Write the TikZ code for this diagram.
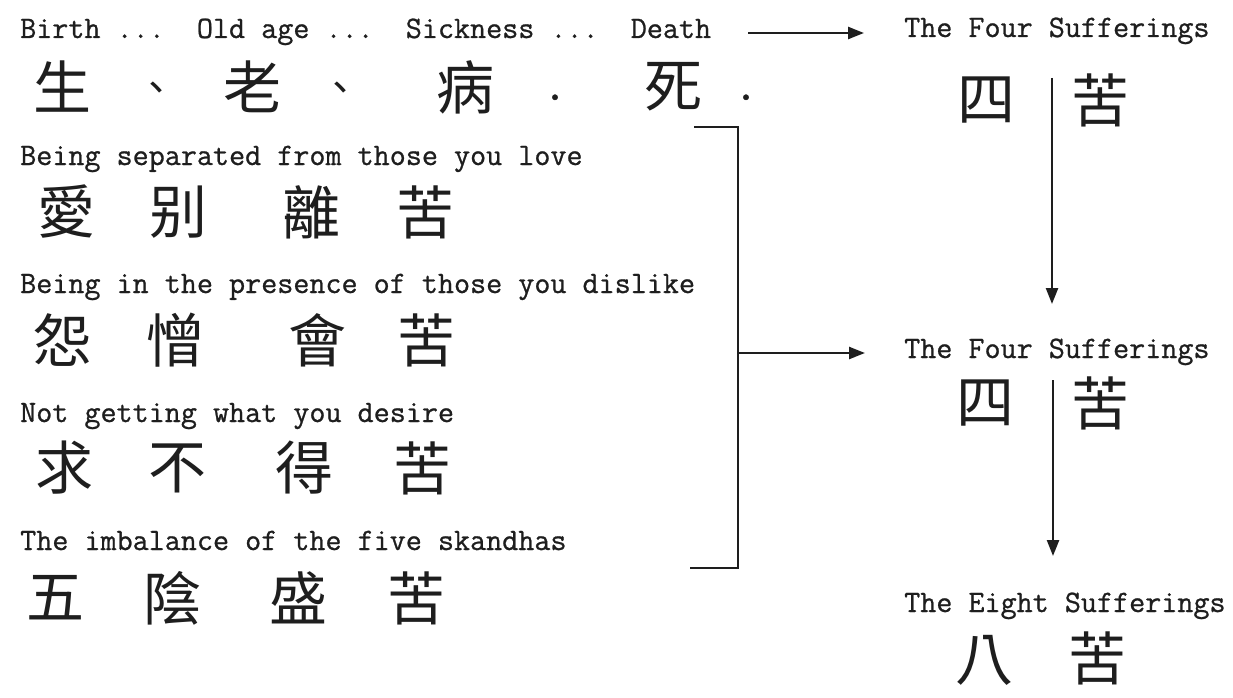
\documentclass[tikz,border=0pt]{standalone}
\usepackage{fontspec}
\newfontfamily\cjk{Noto Sans CJK TC}
\newfontfamily\tw[FakeBold=0.8]{Latin Modern Mono}
\usetikzlibrary{arrows.meta}
\definecolor{ink}{HTML}{1E1E1E}
\tikzset{
  lab/.style={anchor=base west, inner sep=0pt, text=ink,
    font=\fontsize{31.2}{36}\selectfont\tw},
  dotmark/.style={anchor=base, inner sep=0pt, text=ink,
    font=\fontsize{48}{50}\selectfont\tw},
  hz/.style={inner sep=0pt, text=ink, font=\fontsize{58}{60}\selectfont\cjk},
  pz/.style={inner sep=0pt, text=ink, font=\fontsize{40}{42}\selectfont\cjk},
  conn/.style={line width=2.4pt, draw=ink},
  arr/.style={conn, -{Triangle[length=16pt,width=12pt]}}
}
\begin{document}
\begin{tikzpicture}[x=1pt,y=1pt]
\useasboundingbox[fill=white] (0,0) rectangle (1233,-698);

% left column labels
\node[lab] (l1) at (20,-38) {Birth ...\ \ Old age ...\ \ Sickness ...\ \ Death};
\node[lab] (l2) at (20,-165) {Being separated from those you love};
\node[lab] (l3) at (20,-293) {Being in the presence of those you dislike};
\node[lab] (l4) at (20,-422) {Not getting what you desire};
\node[lab] (l5) at (20,-550) {The imbalance of the five skandhas};

% row 1
\node[hz] (c11) at (62,-87) {生};
\node[pz] (p11) at (156,-92) {、};
\node[hz] (c12) at (252,-87) {老};
\node[pz] (p12) at (340,-92) {、};
\node[hz] (c13) at (465,-87) {病};
\node[dotmark] (p13) at (555,-100) {.};
\node[hz] (c14) at (673,-87) {死};
\node[dotmark] (p14) at (746,-100) {.};

% row 2
\node[hz] (c21) at (66,-212) {愛};
\node[hz] (c22) at (178,-212) {别};
\node[hz] (c23) at (311,-212) {離};
\node[hz] (c24) at (425,-212) {苦};

% row 3
\node[hz] (c31) at (62,-340) {怨};
\node[hz] (c32) at (175,-340) {憎};
\node[hz] (c33) at (317,-340) {會};
\node[hz] (c34) at (426,-340) {苦};

% row 4
\node[hz] (c41) at (64,-468) {求};
\node[hz] (c42) at (177,-468) {不};
\node[hz] (c43) at (304,-468) {得};
\node[hz] (c44) at (422,-468) {苦};

% row 5
\node[hz] (c51) at (55,-598) {五};
\node[hz] (c52) at (172,-598) {陰};
\node[hz] (c53) at (298,-598) {盛};
\node[hz] (c54) at (416,-598) {苦};

% right column
\node[lab] (r1) at (904,-37) {The Four Sufferings};
\node[hz] (r1a) at (986,-100) {四};
\node[hz] (r1b) at (1100,-100) {苦};
\node[lab] (r2) at (904,-358) {The Four Sufferings};
\node[hz] (r2a) at (985,-403) {四};
\node[hz] (r2b) at (1100,-403) {苦};
\node[lab] (r3) at (904,-612) {The Eight Sufferings};
\node[hz] (r3a) at (984,-660) {八};
\node[hz] (r3b) at (1097,-658) {苦};

% connector coordinates
\coordinate (a1s) at (748,-33);
\coordinate (a1e) at (864,-33);
\coordinate (bt) at (694,-127);
\coordinate (btr) at (738,-127);
\coordinate (bbr) at (738,-568);
\coordinate (bb) at (690,-568);
\coordinate (bm) at (738,-353);
\coordinate (bme) at (865,-353);
\coordinate (v1s) at (1052,-78);
\coordinate (v1e) at (1052,-304);
\coordinate (v2s) at (1053,-380);
\coordinate (v2e) at (1053,-556);

\draw[arr] (a1s) -- (a1e);
\draw[conn] (bt) -- (btr) -- (bbr) -- (bb);
\draw[arr] (bm) -- (bme);
\draw[arr] (v1s) -- (v1e);
\draw[arr] (v2s) -- (v2e);
\end{tikzpicture}
\end{document}
